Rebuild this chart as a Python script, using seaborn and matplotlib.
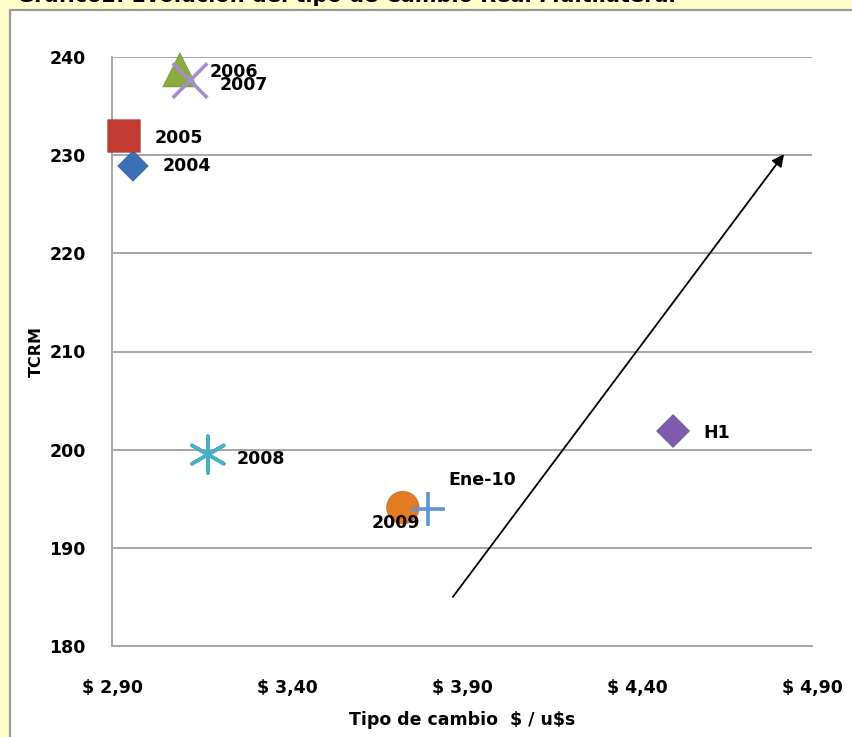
import matplotlib
matplotlib.use("Agg")
import matplotlib.pyplot as plt
from matplotlib.patches import Rectangle
import pandas as pd
import seaborn as sns

# Tipo de cambio nominal ($ / u$s) vs. índice de tipo de cambio real multilateral
etiquetas = ["2004", "2005", "2006", "2007", "2008", "2009", "Ene-10", "H1"]
tipo_cambio = [2.960, 2.933, 3.094, 3.123, 3.174, 3.731, 3.803, 4.503]
tcrm = [228.9, 232.0, 238.7, 237.6, 199.5, 194.1, 194.0, 201.9]

x_ticks = [2.90, 3.40, 3.90, 4.40, 4.90]
x_tick_labels = [r"\$ 2,90", r"\$ 3,40", r"\$ 3,90", r"\$ 4,40", r"\$ 4,90"]
y_ticks = [180, 190, 200, 210, 220, 230, 240]

# Flecha de tendencia (inicio -> fin)
flecha_x = [3.874, 4.820]
flecha_y = [185.0, 230.1]

colores = {
    "2004": "#3C70B6", "2005": "#C23B32", "2006": "#8DAA3E", "2007": "#A690CC",
    "2008": "#4AAFC4", "2009": "#E37C20", "Ene-10": "#5E95D6", "H1": "#7E5BAE",
}
marcadores = {
    "2004": "D", "2005": "s", "2006": "^", "2007": "x",
    "2008": (6, 2, 0), "2009": "o", "Ene-10": "+", "H1": "D",
}
tamanos = {
    "2004": 250, "2005": 560, "2006": 620, "2007": 620,
    "2008": 700, "2009": 560, "Ene-10": 600, "H1": 290,
}
# desplazamiento de cada etiqueta respecto del punto (pixeles, y hacia arriba)
desplazamientos = {
    "2004": (30, 0), "2005": (31, -2), "2006": (30, -2), "2007": (30, -4),
    "2008": (29, -4), "2009": (-31, -15), "Ene-10": (20, 29), "H1": (30, -2),
}
de_linea = ["2007", "2008", "Ene-10"]

df = pd.DataFrame({"etiqueta": etiquetas, "tipo_cambio": tipo_cambio, "tcrm": tcrm})

sns.set_theme(style="white")
plt.rcParams["font.family"] = ["DejaVu Sans"]
plt.rcParams["font.weight"] = "bold"
plt.rcParams["text.color"] = "black"
plt.rcParams["axes.labelcolor"] = "black"

W, H = 852, 737
fig = plt.figure(figsize=(W / 100, H / 100), dpi=100, facecolor="#FFFFCC")

# marco blanco del gráfico
fig.patches.append(Rectangle((10 / W, -0.05), 1.1, 1 - 10 / H + 0.05,
                             transform=fig.transFigure, facecolor="white",
                             edgecolor="#9A9A9A", linewidth=1.6, zorder=-5))
fig.text(17 / W, 1 - 2.5 / H, "Gráfico2: Evolución del tipo de Cambio Real Multilateral",
         fontsize=15, fontweight="bold", color="black", va="baseline", ha="left",
         zorder=-4)

ax = fig.add_axes([112 / W, 1 - 646 / H, 700 / W, 589 / H])
ax.set_facecolor("none")


def sub(d, claves):
    return {k: d[k] for k in claves}


for grupo, kws in [
    (df[~df["etiqueta"].isin(de_linea)], dict(edgecolor="#00000033", linewidth=0.6)),
    (df[df["etiqueta"].isin(de_linea)], dict(edgecolor="face", linewidth=2.6)),
]:
    claves = list(grupo["etiqueta"])
    sns.scatterplot(data=grupo, x="tipo_cambio", y="tcrm", hue="etiqueta", style="etiqueta",
                    size="etiqueta", palette=sub(colores, claves),
                    markers=sub(marcadores, claves), sizes=sub(tamanos, claves),
                    legend=False, ax=ax, zorder=3, clip_on=False, **kws)

for et, x, y in zip(etiquetas, tipo_cambio, tcrm):
    dx, dy = desplazamientos[et]
    ax.annotate(et, (x, y), xytext=(dx, dy), textcoords="offset pixels",
                ha="left", va="center", fontsize=12.5, fontweight="bold", color="black",
                zorder=4)

ax.annotate("", xy=(flecha_x[1], flecha_y[1]), xytext=(flecha_x[0], flecha_y[0]),
            arrowprops=dict(arrowstyle="-|>", color="black", lw=1.3,
                            mutation_scale=18, shrinkA=0, shrinkB=0), zorder=2)

ax.set_xlim(2.90, 4.90)
ax.set_ylim(180, 240)
ax.set_xticks(x_ticks)
ax.set_xticklabels(x_tick_labels)
ax.set_yticks(y_ticks)
ax.yaxis.grid(True, color="#A6A6A6", linewidth=1.4)
ax.xaxis.grid(False)
ax.set_axisbelow(True)

for s in ["top", "right"]:
    ax.spines[s].set_visible(False)
for s in ["left", "bottom"]:
    ax.spines[s].set_color("#A6A6A6")
    ax.spines[s].set_linewidth(1.4)

ax.tick_params(axis="x", direction="out", length=5, width=1.2, color="#A6A6A6",
               pad=19, labelsize=12.5, labelcolor="black")
ax.tick_params(axis="y", direction="out", length=5, width=1.2, color="#A6A6A6",
               pad=14, labelsize=12.5, labelcolor="black")
for lbl in ax.get_xticklabels() + ax.get_yticklabels():
    lbl.set_fontweight("bold")

ax.set_xlabel(r"Tipo de cambio  \$ / u\$s", fontsize=12.5, fontweight="bold",
              labelpad=10, color="black")
ax.set_ylabel("TCRM", fontsize=11.5, fontweight="bold", labelpad=4, color="black")

fig.savefig("out.png", dpi=100, facecolor=fig.get_facecolor())
